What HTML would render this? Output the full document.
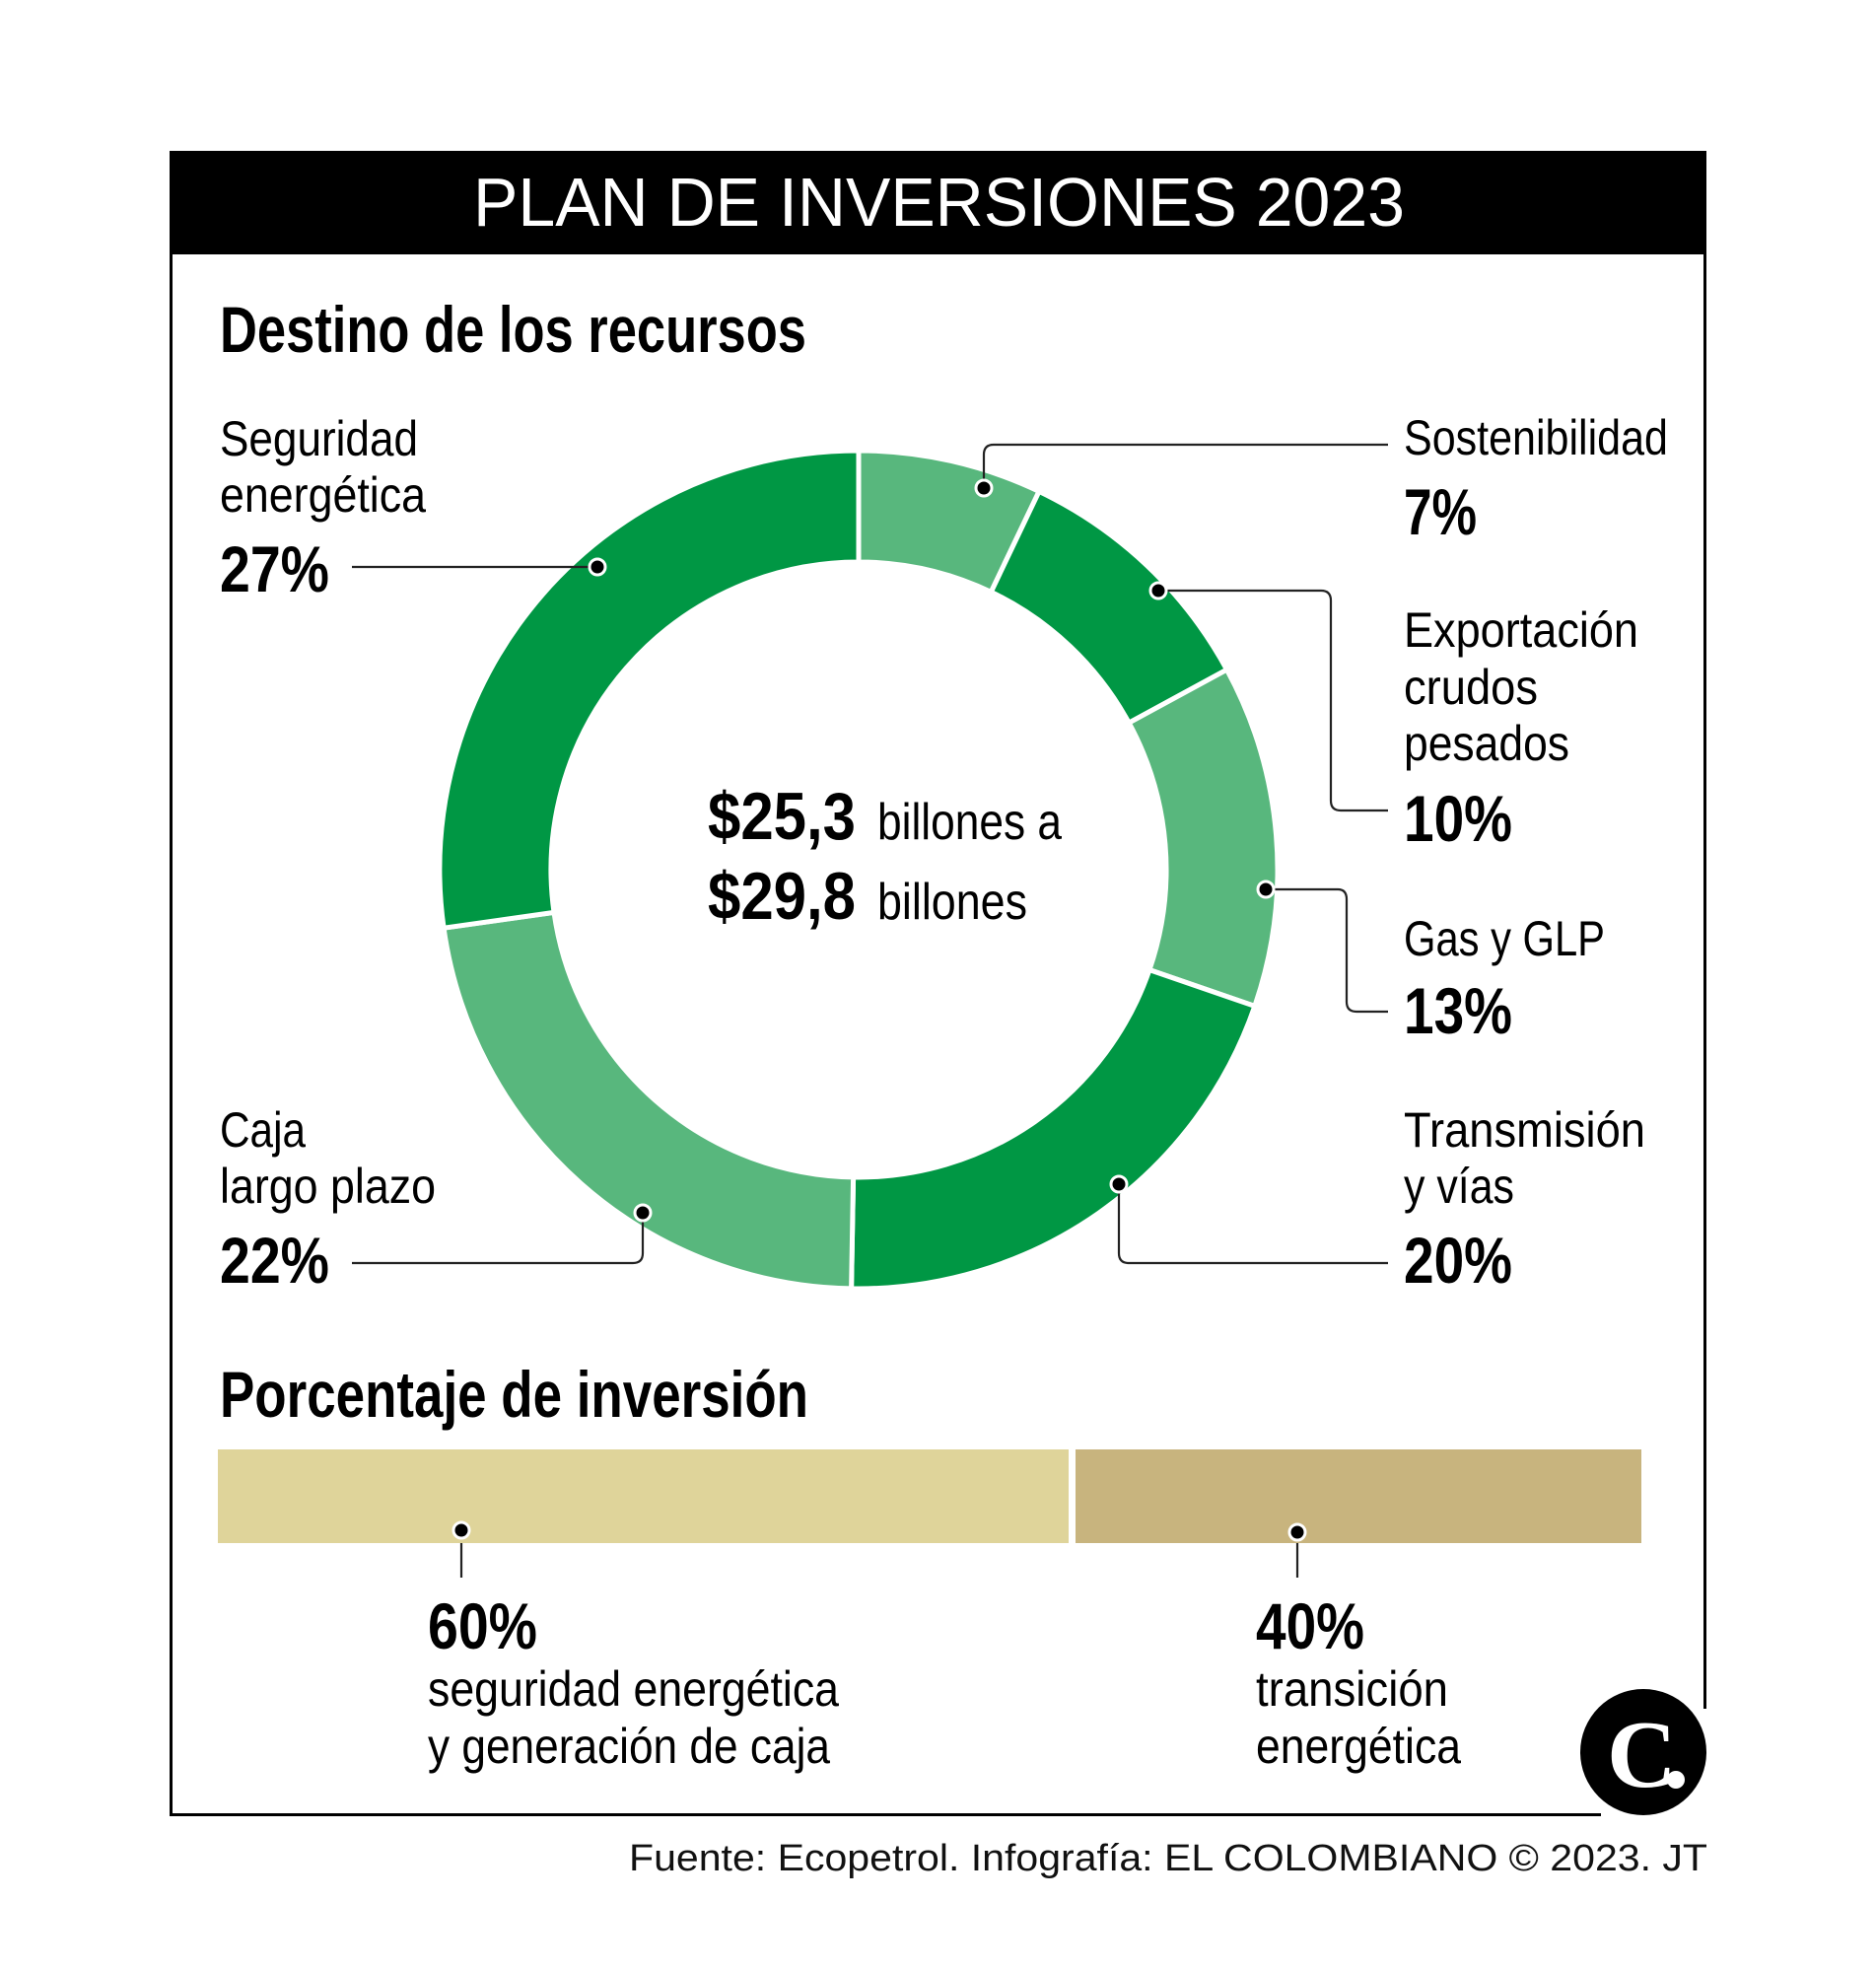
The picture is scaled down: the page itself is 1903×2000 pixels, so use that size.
<!DOCTYPE html>
<html><head><meta charset="utf-8"><style>
html,body{margin:0;padding:0;background:#fff;}
svg{display:block;}
.r{font-family:"Liberation Sans Narrow","Liberation Sans",sans-serif;font-weight:400;fill:#000;}
.b{font-family:"Liberation Sans Narrow","Liberation Sans",sans-serif;font-weight:700;fill:#000;}
</style></head><body>
<svg width="1903" height="2000" viewBox="0 0 1903 2000" xmlns="http://www.w3.org/2000/svg">
<rect width="1903" height="2000" fill="#fff"/>
<rect x="172" y="153" width="1559" height="105" fill="#000"/>
<line x1="173.5" y1="153" x2="173.5" y2="1842" stroke="#000" stroke-width="3"/>
<line x1="1729.5" y1="153" x2="1729.5" y2="1733" stroke="#000" stroke-width="3"/>
<line x1="172" y1="1840.5" x2="1624" y2="1840.5" stroke="#000" stroke-width="3"/>
<text x="480" y="229" font-family="Liberation Sans, sans-serif" font-size="70" fill="#fff" textLength="945" lengthAdjust="spacingAndGlyphs">PLAN DE INVERSIONES 2023</text>

<text class="b" x="223" y="357" font-size="66" textLength="595" lengthAdjust="spacingAndGlyphs">Destino de los recursos</text>

<g stroke="#fff" stroke-width="5" stroke-linejoin="miter">
<path d="M871,457 A425,425 0 0 1 1054.0,498.4 L1005.3,600.4 A312,312 0 0 0 871,570 Z" fill="#58b77d"/>
<path d="M1054.0,498.4 A425,425 0 0 1 1244.5,679.2 L1145.2,733.1 A312,312 0 0 0 1005.3,600.4 Z" fill="#009744"/>
<path d="M1244.5,679.2 A425,425 0 0 1 1272.8,1020.4 L1166.0,983.6 A312,312 0 0 0 1145.2,733.1 Z" fill="#58b77d"/>
<path d="M1272.8,1020.4 A425,425 0 0 1 863.6,1306.9 L865.6,1193.9 A312,312 0 0 0 1166.0,983.6 Z" fill="#009744"/>
<path d="M863.6,1306.9 A425,425 0 0 1 450.1,941.2 L562.0,925.4 A312,312 0 0 0 865.6,1193.9 Z" fill="#58b77d"/>
<path d="M450.1,941.2 A425,425 0 0 1 871,457 L871,570 A312,312 0 0 0 562.0,925.4 Z" fill="#009744"/>
</g>

<text class="b" x="718" y="851" font-size="68" textLength="150" lengthAdjust="spacingAndGlyphs">$25,3</text>
<text class="r" x="890" y="851" font-size="52" textLength="187" lengthAdjust="spacingAndGlyphs">billones a</text>
<text class="b" x="718" y="932" font-size="68" textLength="150" lengthAdjust="spacingAndGlyphs">$29,8</text>
<text class="r" x="890" y="932" font-size="52" textLength="152" lengthAdjust="spacingAndGlyphs">billones</text>

<g fill="none" stroke="#222" stroke-width="2.2">
<path d="M357,575 L606,575"/>
<path d="M998,495 L998,461 Q998,451 1008,451 L1408,451"/>
<path d="M1175,599 L1340,599 Q1350,599 1350,609 L1350,812 Q1350,822 1360,822 L1408,822"/>
<path d="M1284,902 L1357,902 Q1366,902 1366,912 L1366,1016 Q1366,1026 1376,1026 L1408,1026"/>
<path d="M1135,1201 L1135,1271 Q1135,1281 1145,1281 L1408,1281"/>
<path d="M652,1230 L652,1271 Q652,1281 642,1281 L357,1281"/>
<path d="M468,1552 L468,1600"/>
<path d="M1316,1554 L1316,1600"/>
</g>

<text class="r" x="223" y="462" font-size="50" textLength="201" lengthAdjust="spacingAndGlyphs">Seguridad</text>
<text class="r" x="223" y="519" font-size="50" textLength="209" lengthAdjust="spacingAndGlyphs">energética</text>
<text class="b" x="223" y="600" font-size="66" textLength="111" lengthAdjust="spacingAndGlyphs">27%</text>

<text class="r" x="1424" y="461" font-size="50" textLength="268" lengthAdjust="spacingAndGlyphs">Sostenibilidad</text>
<text class="b" x="1424" y="542" font-size="66" textLength="74" lengthAdjust="spacingAndGlyphs">7%</text>

<text class="r" x="1424" y="656" font-size="50" textLength="238" lengthAdjust="spacingAndGlyphs">Exportación</text>
<text class="r" x="1424" y="714" font-size="50" textLength="136" lengthAdjust="spacingAndGlyphs">crudos</text>
<text class="r" x="1424" y="771" font-size="50" textLength="168" lengthAdjust="spacingAndGlyphs">pesados</text>
<text class="b" x="1424" y="853" font-size="66" textLength="110" lengthAdjust="spacingAndGlyphs">10%</text>

<text class="r" x="1424" y="969" font-size="50" textLength="204" lengthAdjust="spacingAndGlyphs">Gas y GLP</text>
<text class="b" x="1424" y="1048" font-size="66" textLength="110" lengthAdjust="spacingAndGlyphs">13%</text>

<text class="r" x="1424" y="1163" font-size="50" textLength="245" lengthAdjust="spacingAndGlyphs">Transmisión</text>
<text class="r" x="1424" y="1220" font-size="50" textLength="112" lengthAdjust="spacingAndGlyphs">y vías</text>
<text class="b" x="1424" y="1301" font-size="66" textLength="110" lengthAdjust="spacingAndGlyphs">20%</text>

<text class="r" x="223" y="1163" font-size="50" textLength="87" lengthAdjust="spacingAndGlyphs">Caja</text>
<text class="r" x="223" y="1220" font-size="50" textLength="219" lengthAdjust="spacingAndGlyphs">largo plazo</text>
<text class="b" x="223" y="1301" font-size="66" textLength="111" lengthAdjust="spacingAndGlyphs">22%</text>

<text class="b" x="223" y="1437" font-size="66" textLength="597" lengthAdjust="spacingAndGlyphs">Porcentaje de inversión</text>

<rect x="221" y="1470" width="863" height="95" fill="#dfd49a"/>
<rect x="1091" y="1470" width="574" height="95" fill="#c8b47e"/>

<g fill="#000" stroke="#fff" stroke-width="3">
<circle cx="606" cy="575" r="8"/>
<circle cx="998" cy="495" r="8"/>
<circle cx="1175" cy="599" r="8"/>
<circle cx="1284" cy="902" r="8"/>
<circle cx="1135" cy="1201" r="8"/>
<circle cx="652" cy="1230" r="8"/>
<circle cx="468" cy="1552" r="8"/>
<circle cx="1316" cy="1554" r="8"/>
</g>

<text class="b" x="434" y="1672" font-size="66" textLength="111" lengthAdjust="spacingAndGlyphs">60%</text>
<text class="r" x="434" y="1730" font-size="50" textLength="417" lengthAdjust="spacingAndGlyphs">seguridad energética</text>
<text class="r" x="434" y="1788" font-size="50" textLength="408" lengthAdjust="spacingAndGlyphs">y generación de caja</text>

<text class="b" x="1274" y="1672" font-size="66" textLength="110" lengthAdjust="spacingAndGlyphs">40%</text>
<text class="r" x="1274" y="1730" font-size="50" textLength="195" lengthAdjust="spacingAndGlyphs">transición</text>
<text class="r" x="1274" y="1788" font-size="50" textLength="208" lengthAdjust="spacingAndGlyphs">energética</text>

<circle cx="1667" cy="1777" r="64" fill="#000"/>
<text x="1630" y="1812" font-family="Liberation Serif, serif" font-weight="700" font-size="98" fill="#fff">C</text>
<circle cx="1700" cy="1805" r="9" fill="#fff"/>

<text x="638" y="1897" font-family="Liberation Sans, sans-serif" font-size="38" fill="#111" textLength="1094" lengthAdjust="spacingAndGlyphs">Fuente: Ecopetrol. Infografía: EL COLOMBIANO © 2023. JT</text>
</svg>
</body></html>
